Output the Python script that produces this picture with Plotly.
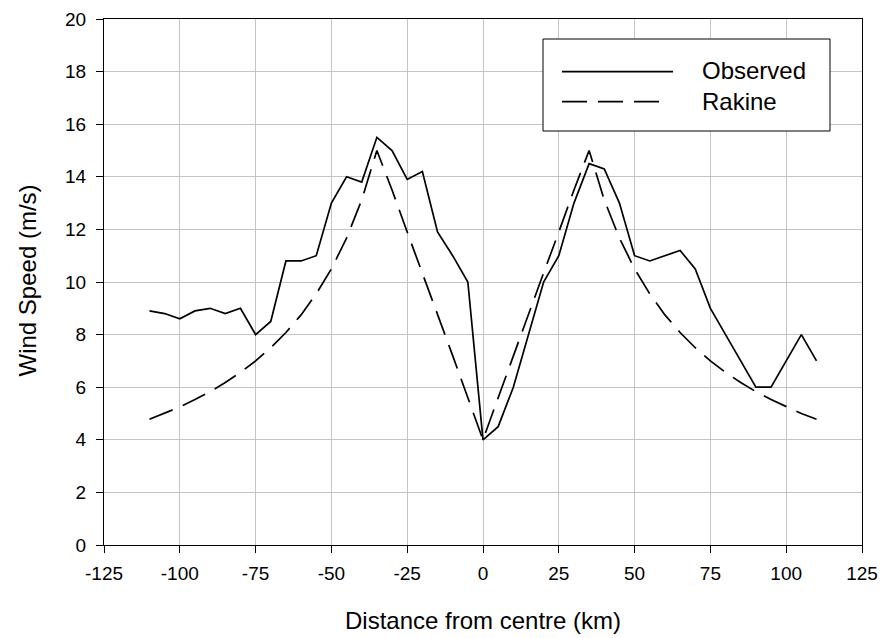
import plotly.graph_objects as go

# Distance from the cyclone centre (km)
distance_km = [-110, -105, -100, -95, -90, -85, -80, -75, -70, -65, -60, -55, -50,
               -45, -40, -35, -30, -25, -20, -15, -10, -5, 0, 5, 10, 15, 20, 25,
               30, 35, 40, 45, 50, 55, 60, 65, 70, 75, 80, 85, 90, 95, 100, 105, 110]

# Observed wind speed (m/s)
observed = [8.9, 8.8, 8.6, 8.9, 9.0, 8.8, 9.0, 8.0, 8.5, 10.8, 10.8, 11.0, 13.0,
            14.0, 13.8, 15.5, 15.0, 13.9, 14.2, 11.9, 11.0, 10.0, 4.0, 4.5, 6.0, 8.0,
            10.0, 11.0, 13.0, 14.5, 14.3, 13.0, 11.0, 10.8, 11.0, 11.2, 10.5, 9.0,
            8.0, 7.0, 6.0, 6.0, 7.0, 8.0, 7.0]

# Rakine wind profile (m/s)
rakine = [4.78, 5.0, 5.25, 5.53, 5.83, 6.18, 6.56, 7.0, 7.5, 8.08, 8.75, 9.55, 10.5,
          11.67, 13.12, 15.0, 13.5, 11.9, 10.35, 8.8, 7.2, 5.6, 4.0, 5.6, 7.2, 8.8,
          10.35, 11.9, 13.5, 15.0, 13.12, 11.67, 10.5, 9.55, 8.75, 8.08, 7.5, 7.0,
          6.56, 6.18, 5.83, 5.53, 5.25, 5.0, 4.78]

x_ticks = [-125, -100, -75, -50, -25, 0, 25, 50, 75, 100, 125]
x_tick_text = ["-125", "-100", "-75", "-50", "-25", "0", "25", "50", "75", "100", "125"]
y_ticks = [0, 2, 4, 6, 8, 10, 12, 14, 16, 18, 20]

series_names = ["Observed", "Rakine"]

FONT = "Liberation Sans, Arial, sans-serif"
DASH = "25px,11px"

# plot area in pixels: x 104..862, y 19..545
W, H = 883, 638
L, R, T, B = 104, 21, 19, 93
PW, PH = W - L - R, H - T - B


def px_x(p):
    return (p - L) / PW


def px_y(p):
    return (H - B - p) / PH


fig = go.Figure()
fig.add_trace(go.Scatter(x=distance_km, y=observed, mode="lines", name=series_names[0],
                         line=dict(color="black", width=1.7), showlegend=False))
fig.add_trace(go.Scatter(x=distance_km, y=rakine, mode="lines", name=series_names[1],
                         line=dict(color="black", width=1.7, dash=DASH), showlegend=False))

axis_common = dict(
    showgrid=True, gridcolor="#c4c4c4", gridwidth=1,
    showline=True, linecolor="black", linewidth=1, mirror=True,
    ticks="outside", ticklen=7, tickcolor="black", tickwidth=1,
    tickfont=dict(family=FONT, size=19, color="black"),
    zeroline=False,
)

fig.update_xaxes(range=[-125, 125], tickmode="array", tickvals=x_ticks,
                 ticktext=x_tick_text, ticklabelstandoff=4, **axis_common)
fig.update_yaxes(range=[0, 20], tickmode="array", tickvals=y_ticks,
                 ticklabelstandoff=6, **axis_common)

# legend box drawn in paper space
lx0, lx1, ly0, ly1 = 543, 830, 131, 39
fig.add_shape(type="rect", xref="paper", yref="paper",
              x0=px_x(lx0), x1=px_x(lx1), y0=px_y(ly0), y1=px_y(ly1),
              line=dict(color="black", width=1), fillcolor="white", layer="above")
fig.add_shape(type="line", xref="paper", yref="paper",
              x0=px_x(562), x1=px_x(673), y0=px_y(71.7), y1=px_y(71.7),
              line=dict(color="black", width=1.7), layer="above")
fig.add_shape(type="line", xref="paper", yref="paper",
              x0=px_x(562), x1=px_x(662), y0=px_y(101.7), y1=px_y(101.7),
              line=dict(color="black", width=1.7, dash=DASH), layer="above")

annotations = [
    dict(text=series_names[0], x=px_x(700), y=px_y(71), xanchor="left", yanchor="middle"),
    dict(text=series_names[1], x=px_x(700), y=px_y(101), xanchor="left", yanchor="middle"),
    dict(text="Distance from centre (km)", x=px_x(482.5), y=px_y(620.5),
         xanchor="center", yanchor="middle"),
    dict(text="Wind Speed (m/s)", x=px_x(26.5), y=px_y(281), textangle=-90,
         xanchor="center", yanchor="middle"),
]
for a in annotations:
    fig.add_annotation(xref="paper", yref="paper", showarrow=False,
                       font=dict(family=FONT, size=24, color="black"), **a)

fig.update_layout(
    width=W, height=H,
    margin=dict(l=L, r=R, t=T, b=B, autoexpand=False),
    paper_bgcolor="white", plot_bgcolor="white",
    font=dict(family=FONT, color="black"),
    showlegend=False,
)

fig.write_html("out.html")
